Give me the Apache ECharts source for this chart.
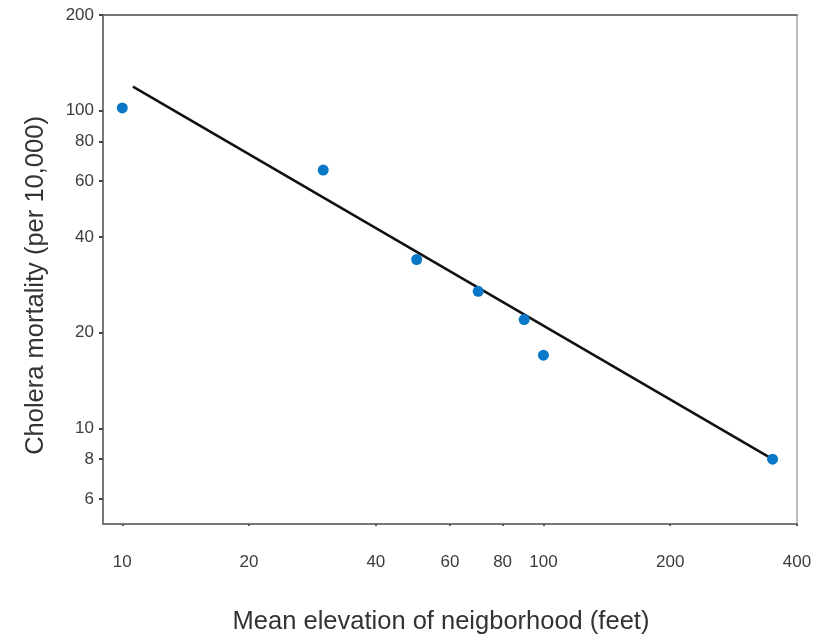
<!DOCTYPE html>
<html>
<head>
<meta charset="utf-8">
<script src="https://cdn.jsdelivr.net/npm/echarts@6/dist/echarts.min.js"></script>
<style>html,body{margin:0;padding:0;background:#fff}#c{width:818px;height:640px}</style>
</head>
<body>
<div id="c"></div>
<script>
// Data
const elevation = [10, 30, 50, 70, 90, 100, 350];
const mortality = [102, 65, 34, 27, 22, 17, 8];
const fitLineX = [10.6, 350];
const fitLineY = [119, 8];
const xTicks = [10, 20, 40, 60, 80, 100, 200, 400];
const yTicks = [6, 8, 10, 20, 40, 60, 80, 100, 200];

const chart = echarts.init(document.getElementById('c'), null, {renderer: 'canvas'});
const font = 'Liberation Sans, Arial, sans-serif';

chart.setOption({
  animation: false,
  backgroundColor: '#fff',
  grid: {left: 103, right: 21, top: 15, bottom: 115, containLabel: false},
  xAxis: [{
    type: 'log', min: 9, max: 400, logBase: 10,
    name: 'Mean elevation of neigborhood (feet)',
    nameLocation: 'middle', nameGap: 85,
    nameTextStyle: {fontFamily: font, fontSize: 25.5, color: '#333', padding: [0, 18, 0, 0]},
    axisLine: {show: true, lineStyle: {color: '#777', width: 2}},
    axisTick: {show: true, length: 2, customValues: xTicks, lineStyle: {color: '#555', width: 2}},
    axisLabel: {show: true, customValues: xTicks, margin: 30, fontFamily: font, fontSize: 17, color: '#3c3c3c'},
    splitLine: {show: false}, minorTick: {show: false}
  }, {
    type: 'log', min: 9, max: 400, position: 'top',
    axisLine: {show: true, onZero: false, lineStyle: {color: '#777', width: 2}},
    axisTick: {show: false}, axisLabel: {show: false}, splitLine: {show: false}
  }],
  yAxis: [{
    type: 'log', min: 5, max: 200, logBase: 10,
    name: 'Cholera mortality (per 10,000)',
    nameLocation: 'middle', nameGap: 54, nameRotate: 90,
    nameTextStyle: {fontFamily: font, fontSize: 25.5, color: '#333', padding: [0, 32, 0, 0]},
    axisLine: {show: true, lineStyle: {color: '#777', width: 2}},
    axisTick: {show: true, length: 4, customValues: yTicks, lineStyle: {color: '#444', width: 2}},
    axisLabel: {show: true, customValues: yTicks, margin: 9, fontFamily: font, fontSize: 17, color: '#3c3c3c'},
    splitLine: {show: false}, minorTick: {show: false}
  }, {
    type: 'log', min: 5, max: 200, position: 'right',
    axisLine: {show: true, onZero: false, lineStyle: {color: '#bbb', width: 2}},
    axisTick: {show: false}, axisLabel: {show: false}, splitLine: {show: false}
  }],
  series: [{
    type: 'line',
    data: fitLineX.map((x, i) => [x, fitLineY[i]]),
    showSymbol: false, symbol: 'none',
    lineStyle: {color: '#111', width: 2.5},
    z: 2
  }, {
    type: 'scatter',
    data: elevation.map((x, i) => [x, mortality[i]]),
    symbolSize: 11,
    itemStyle: {color: '#0a78c8', opacity: 1},
    z: 3
  }]
});
</script>
</body>
</html>
